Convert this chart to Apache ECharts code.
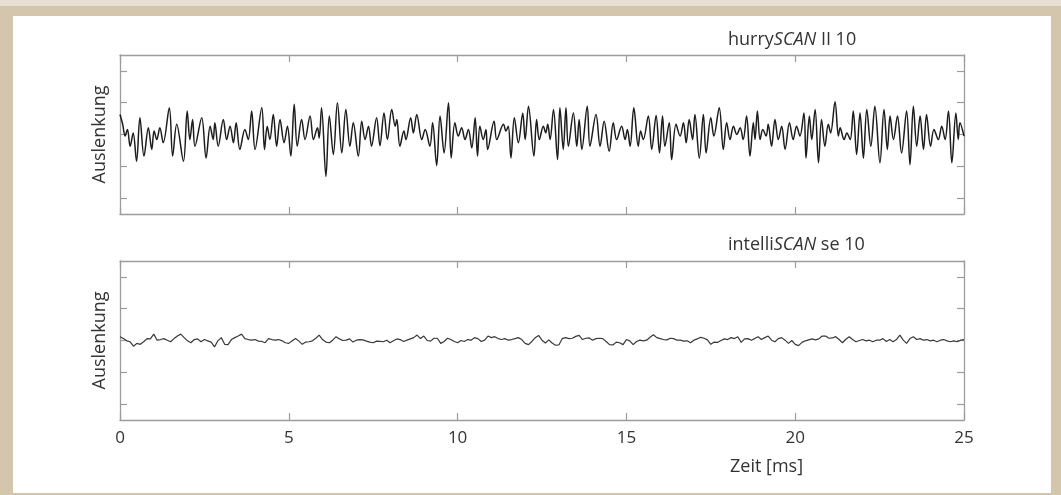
<!DOCTYPE html>
<html>
<head>
<meta charset="utf-8">
<script src="https://cdn.jsdelivr.net/npm/echarts@6/dist/echarts.min.js"></script>
<style>
  html, body { margin: 0; padding: 0; }
  body { width: 1061px; height: 495px; background: #d3c6ad; position: relative; overflow: hidden; }
  #topStrip { position: absolute; left: 0; top: 0; width: 1061px; height: 6px; background: #e6dfd2; }
  #panel { position: absolute; left: 13px; top: 16px; width: 1038px; height: 477px; background: #fff; }
  #main { position: absolute; left: 0; top: 0; width: 1061px; height: 495px; }
</style>
</head>
<body>
<div id="topStrip"></div>
<div id="panel"></div>
<div id="main"></div>
<script>
// time axis (ms) and deflection ticks
var timeTicks = [0, 5, 10, 15, 20, 25];
var deflTicks = [-2, -1, 0, 1, 2];

var hurryPoints = [
  [0,0.63],[0.08,0.32],[0.15,-0.05],[0.22,0.16],[0.30,-0.37],[0.39,0.05],[0.49,-0.84],[0.59,0.53],[0.71,-0.68],[0.84,0.21],
  [0.94,-0.47],[1.01,0.11],[1.09,-0.16],[1.18,0.21],[1.28,-0.26],[1.46,0.84],[1.56,-0.68],[1.68,0.32],[1.88,-0.84],[1.99,0.74],
  [2.07,-0.16],[2.15,0.47],[2.22,-0.37],[2.42,0.53],[2.55,-0.74],[2.67,0.26],[2.76,-0.16],[2.81,0.37],[2.91,-0.37],[3.06,0.47],
  [3.16,-0.16],[3.26,0.26],[3.36,-0.26],[3.44,0.37],[3.55,-0.47],[3.70,0.16],[3.80,-0.16],[3.90,0.74],[4.00,-0.47],[4.20,0.84],
  [4.28,-0.47],[4.36,0.26],[4.44,-0.16],[4.54,0.63],[4.64,-0.37],[4.74,0.47],[4.86,-0.26],[4.96,0.26],[5.06,-0.68],[5.16,0.95],
  [5.25,-0.37],[5.38,0.47],[5.48,-0.16],[5.63,0.58],[5.73,-0.16],[5.85,0.21],[5.90,-0.11],[5.97,0.84],[6.10,-1.32],[6.20,0.58],
  [6.32,-0.63],[6.44,1.00],[6.57,-0.58],[6.69,0.79],[6.81,-0.37],[6.91,0.37],[7.06,-0.68],[7.16,0.42],[7.26,-0.16],[7.36,0.26],
  [7.45,-0.37],[7.60,0.53],[7.70,-0.35],
  [7.82,0.68],[7.92,-0.16],[8.05,0.79],[8.15,0.26],[8.20,0.47],[8.29,-0.37],[8.41,0.11],[8.47,-0.16],[8.61,0.53],[8.69,0.05],
  [8.79,0.63],[8.94,-0.16],[9.04,0.16],[9.18,-0.37],[9.26,0.37],[9.38,-0.98],[9.48,0.58],[9.60,-0.58],[9.73,1.00],[9.81,-0.74],
  [9.92,0.37],[10.02,-0.05],[10.12,0.21],[10.22,-0.16],[10.32,0.16],[10.42,-0.42],[10.52,0.53],[10.59,-0.68],[10.66,0.26],[10.76,-0.16],
  [10.84,0.16],[10.89,-0.47],[11.08,0.42],[11.16,-0.16],[11.36,0.32],[11.43,0.11],[11.50,0.26],[11.58,-0.74],[11.68,0.53],[11.80,-0.26],
  [11.93,0.68],[12.00,-0.16],[12.10,0.89],[12.26,-0.68],[12.34,0.47],[12.42,-0.16],[12.54,0.26],[12.61,0.05],[12.67,0.32],[12.74,-0.16],
  [12.84,0.79],[12.96,-0.79],[13.03,0.84],[13.13,-0.47],[13.21,0.84],[13.28,-0.37],[13.43,0.68],[13.53,-0.37],[13.60,0.47],[13.68,-0.47],
  [13.84,0.89],[13.92,-0.37],[14.10,0.63],[14.22,-0.37],[14.34,0.42],[14.49,-0.53],[14.61,0.37],[14.71,-0.16],[14.86,0.26],[14.96,-0.16],
  [15.03,0.16],[15.11,-0.37],[15.22,0.84],[15.35,-0.37],[15.42,0.11],[15.50,-0.16],[15.65,0.58],[15.75,-0.47],[15.88,0.60],[15.98,-0.58],
  [16.07,0.58],[16.14,-0.37],[16.27,0.37],[16.34,-0.79],[16.47,0.32],[16.59,-0.05],
  [16.69,0.37],[16.77,-0.26],[16.86,0.47],[16.96,-0.16],[17.03,0.63],[17.16,-0.74],[17.28,0.63],[17.36,-0.58],[17.50,0.53],[17.59,-0.05],
  [17.75,0.84],[17.87,-0.47],[17.97,0.37],[18.07,-0.16],[18.17,0.26],[18.27,0.00],[18.37,0.21],[18.46,-0.16],[18.56,0.58],[18.66,-0.68],
  [18.76,0.37],[18.81,-0.16],[18.88,0.74],[18.96,-0.16],[19.04,0.16],[19.14,-0.05],[19.20,0.32],[19.30,-0.37],[19.40,0.47],[19.50,-0.16],
  [19.60,0.26],[19.70,-0.47],[19.83,0.37],[19.94,-0.16],[20.04,0.26],[20.14,-0.05],[20.26,0.68],[20.32,-0.74],[20.42,0.58],[20.49,-0.16],
  [20.59,0.79],[20.69,-0.89],[20.78,0.47],[20.88,-0.37],[20.98,0.32],[21.05,0.05],[21.18,1.03],[21.28,-0.05],[21.33,0.21],[21.45,-0.16],
  [21.53,0.05],[21.63,-0.16],[21.72,0.74],[21.82,-0.63],[21.92,0.68],[22.02,-0.74],[22.12,0.79],[22.24,-0.37],[22.36,0.89],[22.51,-0.89],
  [22.63,0.79],[22.73,-0.47],[22.81,0.58],[22.91,-0.16],[23.03,0.58],[23.15,-0.58],[23.30,0.74],[23.40,-0.95],[23.50,0.89],[23.60,-0.37],
  [23.70,0.58],[23.80,-0.47],[23.89,0.63],[24.01,-0.37],[24.11,0.16],[24.24,-0.16],[24.34,0.26],[24.44,-0.16],[24.54,0.74],[24.64,-0.89],
  [24.76,0.68],[24.83,-0.16],[24.88,0.37],[25.00,-0.05]
];

// intelliSCAN se 10: deflection sampled every 0.1 ms from 0 to 25 ms
var intelliStep = 0.1;
var intelliVals = [
  0.12,0.06,-0.01,-0.04,-0.18,-0.09,-0.12,-0.04,0.06,0.05,
  0.20,0.01,0.03,0.06,0.01,-0.04,0.06,0.14,0.20,0.09,
  -0.01,-0.07,0.03,0.05,-0.04,0.03,-0.01,-0.05,-0.20,-0.01,
  0.09,-0.12,-0.13,0.03,0.09,0.14,0.20,0.06,0.03,0.01,
  0.03,-0.02,-0.03,-0.07,0.06,0.03,0.01,0.03,-0.01,-0.07,
  -0.09,-0.01,0.06,-0.02,-0.12,-0.05,-0.04,-0.01,0.07,0.17,
  0.03,-0.05,-0.07,0.01,0.12,0.05,0.00,0.01,0.05,-0.05,
  0.01,0.03,0.02,-0.02,-0.05,-0.07,-0.02,-0.03,
  -0.04,0.01,-0.07,-0.01,0.05,0.03,-0.03,0.01,0.05,0.09,
  0.17,0.06,0.14,0.00,-0.02,0.07,0.07,-0.09,-0.03,0.07,
  0.03,-0.03,-0.07,0.00,-0.03,0.03,0.01,0.09,0.06,-0.03,
  0.01,0.14,0.09,0.12,0.06,0.03,0.06,0.01,0.03,0.06,
  0.09,0.03,-0.09,-0.13,-0.03,0.09,0.16,0.01,-0.08,0.02,
  -0.08,-0.15,-0.14,0.06,0.09,0.06,0.07,0.13,0.16,0.03,
  0.07,0.08,0.01,0.06,0.07,0.06,-0.03,-0.13,-0.14,-0.05,
  -0.07,-0.13,0.03,-0.01,-0.13,-0.03,0.01,-0.01,0.01,0.10,
  0.18,0.09,0.06,0.03,0.02,0.07,0.06,0.01,
  0.01,-0.02,-0.01,-0.07,0.01,0.05,0.10,0.07,0.02,-0.12,
  -0.05,-0.06,0.00,0.05,0.03,0.09,0.06,0.12,-0.06,0.05,
  0.06,0.01,0.06,0.12,0.03,0.09,0.14,0.01,-0.04,0.06,
  0.09,0.01,-0.09,0.00,-0.12,-0.16,-0.06,-0.01,0.02,0.05,
  0.02,0.05,0.14,0.14,0.07,0.08,0.12,0.03,-0.07,0.04,
  0.12,0.03,-0.04,0.00,0.03,-0.01,0.01,-0.04,0.01,0.01,
  0.06,-0.03,0.03,-0.04,0.03,0.17,0.01,-0.09,0.06,0.12,
  0.03,0.06,0.01,0.03,-0.01,0.01,-0.04,0.01,0.03,-0.01,
  -0.04,-0.01,-0.04,0.01,0.03
];

var intelliPoints = intelliVals.map(function (v, i) {
  return [+(i * intelliStep).toFixed(2), v];
});

var frameColor = '#9c9c9c';
var textColor = '#333';
var fontFamily = '"Open Sans", "Noto Sans", sans-serif';

function xAxisFor(grid, pos, labels) {
  return {
    gridIndex: grid, type: 'value', position: pos,
    min: timeTicks[0], max: timeTicks[timeTicks.length - 1], interval: 5,
    axisLine: { show: true, onZero: false, lineStyle: { color: frameColor, width: 1.3 } },
    axisTick: { show: true, inside: true, length: 7, lineStyle: { color: frameColor, width: 1.2 } },
    axisLabel: { show: labels, margin: 10, color: textColor, fontSize: 17, fontFamily: fontFamily },
    splitLine: { show: false }
  };
}

function yAxisFor(grid, pos, named) {
  return {
    gridIndex: grid, type: 'value', position: pos,
    min: -2.5, max: 2.5,
    name: named ? 'Auslenkung' : '',
    nameLocation: 'middle', nameGap: 11,
    nameTextStyle: { color: textColor, fontSize: 18, fontFamily: fontFamily },
    axisLine: { show: true, onZero: false, lineStyle: { color: frameColor, width: 1.3 } },
    axisTick: { show: true, inside: true, length: 7, customValues: deflTicks, lineStyle: { color: frameColor, width: 1.2 } },
    axisLabel: { show: false, customValues: deflTicks },
    splitLine: { show: false }
  };
}

var titleRich = {
  n: { fontSize: 18, color: textColor, fontFamily: fontFamily, fontWeight: 'normal' },
  i: { fontSize: 18, color: textColor, fontFamily: fontFamily, fontWeight: 'normal', fontStyle: 'italic' }
};

var chart = echarts.init(document.getElementById('main'), null, { renderer: 'canvas' });
chart.setOption({
  animation: false,
  backgroundColor: 'transparent',
  title: [
    { text: '{n|hurry}{i|SCAN}{n| II 10}', left: 723, top: 26, textStyle: { fontWeight: 'normal', rich: titleRich } },
    { text: '{n|intelli}{i|SCAN}{n| se 10}', left: 723, top: 231, textStyle: { fontWeight: 'normal', rich: titleRich } },
    { text: 'Zeit [ms]', left: 725, top: 453, textStyle: { fontSize: 18, fontWeight: 'normal', color: textColor, fontFamily: fontFamily } }
  ],
  grid: [
    { left: 120, top: 55, width: 844, height: 159 },
    { left: 120, top: 261, width: 844, height: 159 }
  ],
  xAxis: [
    xAxisFor(0, 'bottom', false), xAxisFor(0, 'top', false),
    xAxisFor(1, 'bottom', true), xAxisFor(1, 'top', false)
  ],
  yAxis: [
    yAxisFor(0, 'left', true), yAxisFor(0, 'right', false),
    yAxisFor(1, 'left', true), yAxisFor(1, 'right', false)
  ],
  series: [
    {
      name: 'hurrySCAN II 10', type: 'line', xAxisIndex: 0, yAxisIndex: 0,
      data: hurryPoints, showSymbol: false, silent: true, smooth: 0.35,
      lineStyle: { color: '#1c1c1c', width: 1.5 }
    },
    {
      name: 'intelliSCAN se 10', type: 'line', xAxisIndex: 2, yAxisIndex: 2,
      data: intelliPoints, showSymbol: false, silent: true,
      lineStyle: { color: '#3a3a3a', width: 1.2 }
    }
  ]
});
</script>
</body>
</html>
